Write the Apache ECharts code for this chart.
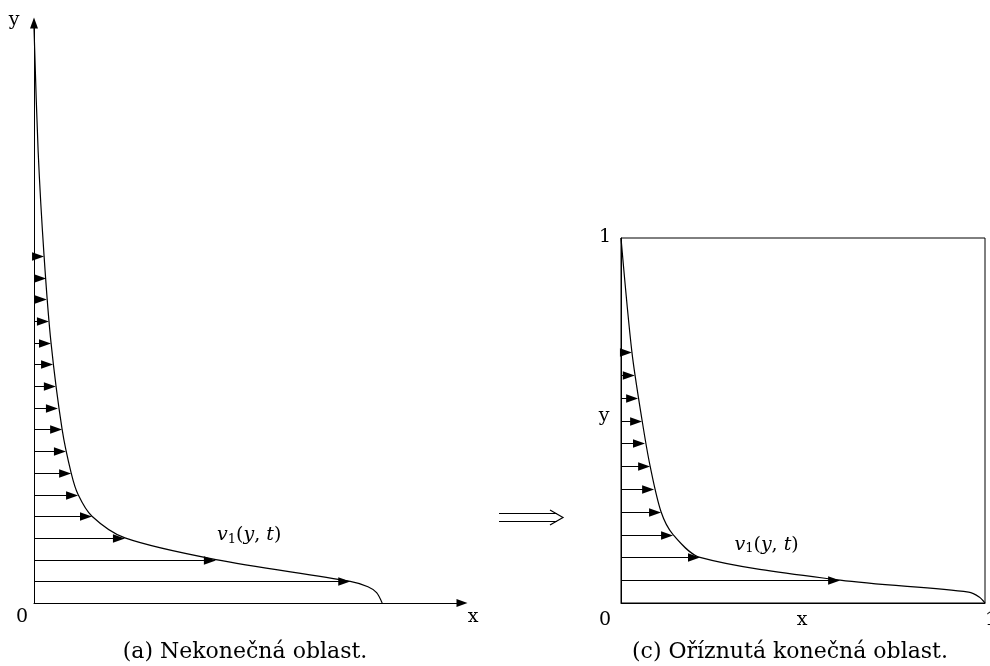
<!DOCTYPE html>
<html>
<head>
<meta charset="utf-8">
<title>Nekonečná a oříznutá oblast</title>
<script src="https://cdn.jsdelivr.net/npm/echarts@6/dist/echarts.min.js"></script>
<style>
  html, body { margin: 0; padding: 0; background: #fff; }
  #chart { width: 990px; height: 666px; }
</style>
</head>
<body>
<div id="chart"></div>
<script>
// (a) infinite domain - velocity arrows (tip x) at heights y
var leftArrowY = [1, 0.9375, 0.875, 0.8125, 0.75, 0.6875, 0.625, 0.5625, 0.5, 0.4375, 0.375, 0.3125, 0.25, 0.1875, 0.125, 0.0625];
var leftArrowX = [0.029, 0.035, 0.037, 0.043, 0.049, 0.055, 0.063, 0.069, 0.081, 0.092, 0.107, 0.127, 0.167, 0.262, 0.524, 0.911];
// profile v1(y,t) in (a)
var leftCurveX = [0, 0.012, 0.029, 0.049, 0.081, 0.107, 0.127, 0.167, 0.262, 0.524, 0.911, 0.962, 0.987, 1.003];
var leftCurveY = [1.657, 1.3, 1, 0.75, 0.5, 0.375, 0.3125, 0.25, 0.1875, 0.125, 0.0625, 0.047, 0.03, 0];

// (c) truncated finite domain
var rightArrowY = [0.6875, 0.625, 0.5625, 0.5, 0.4375, 0.375, 0.3125, 0.25, 0.1875, 0.125, 0.0625];
var rightArrowX = [0.030, 0.038, 0.047, 0.058, 0.066, 0.080, 0.091, 0.110, 0.143, 0.217, 0.602];
var rightCurveX = [0, 0.030, 0.058, 0.080, 0.110, 0.143, 0.217, 0.602, 0.955, 0.985, 1];
var rightCurveY = [1, 0.6875, 0.5, 0.375, 0.25, 0.1875, 0.125, 0.0625, 0.03, 0.016, 0];

function zip(xs, ys) {
  var out = [];
  for (var i = 0; i < xs.length; i++) out.push([xs[i], ys[i]]);
  return out;
}

var serif = '"DejaVu Serif", "Liberation Serif", serif';

// horizontal arrow from the y axis to the profile
function renderArrow(params, api) {
  var x = api.value(0), y = api.value(1);
  var p0 = api.coord([0, y]);
  var p1 = api.coord([x, y]);
  var yy = Math.round(p1[1]) + 0.5;
  var L = 12, W = 4.3;
  return {
    type: 'group',
    children: [
      { type: 'line', shape: { x1: p0[0], y1: yy, x2: p1[0] - L + 1, y2: yy },
        style: { stroke: '#000', lineWidth: 1 } },
      { type: 'polygon', shape: { points: [[p1[0], yy], [p1[0] - L, yy - W], [p1[0] - L, yy + W]] },
        style: { fill: '#000' } }
    ]
  };
}

var v1Rich = {
  i: { fontFamily: serif, fontStyle: 'italic', fontSize: 19, color: '#000' },
  s: { fontFamily: serif, fontSize: 13, color: '#000', padding: [9, 0, 0, 0] },
  n: { fontFamily: serif, fontSize: 19, color: '#000' }
};
var v1Text = '{i|v}{s|1}{n|(}{i|y}{n|, }{i|t}{n|)}';

function label(x, y, text, size, align) {
  return {
    type: 'text', x: x, y: y,
    style: { text: text, fontFamily: serif, fontSize: size || 19, fill: '#000',
             textAlign: align || 'center', textVerticalAlign: 'middle' }
  };
}

var myChart = echarts.init(document.getElementById('chart'), null, { renderer: 'canvas' });

var axisOff = { axisTick: { show: false }, axisLabel: { show: false }, splitLine: { show: false } };

var option = {
  backgroundColor: '#fff',
  animation: false,
  grid: [
    { left: 34, top: 23, width: 428, height: 580, show: false },
    { left: 621, top: 238, width: 364, height: 365, show: true, borderColor: '#000', borderWidth: 1 }
  ],
  xAxis: [
    Object.assign({ gridIndex: 0, type: 'value', min: 0, max: 1.233,
      axisLine: { show: true, onZero: false, symbol: ['none', 'triangle'], symbolSize: [8, 11],
                  lineStyle: { color: '#000', width: 1 } } }, axisOff),
    Object.assign({ gridIndex: 1, type: 'value', min: 0, max: 1,
      axisLine: { show: true, onZero: false, lineStyle: { color: '#000', width: 1 } } }, axisOff)
  ],
  yAxis: [
    Object.assign({ gridIndex: 0, type: 'value', min: 0, max: 1.671,
      axisLine: { show: true, onZero: false, symbol: ['none', 'triangle'], symbolSize: [8, 11],
                  lineStyle: { color: '#000', width: 1 } } }, axisOff),
    Object.assign({ gridIndex: 1, type: 'value', min: 0, max: 1,
      axisLine: { show: true, onZero: false, lineStyle: { color: '#000', width: 1 } } }, axisOff)
  ],
  series: [
    {
      type: 'line', xAxisIndex: 0, yAxisIndex: 0,
      data: zip(leftCurveX, leftCurveY),
      smooth: 0.3, showSymbol: false, silent: true,
      lineStyle: { color: '#000', width: 1.2 },
      markPoint: {
        symbol: 'rect', symbolSize: 1, itemStyle: { color: 'transparent' },
        label: { show: true, formatter: v1Text, rich: v1Rich, position: 'inside' },
        data: [{ coord: [0.62, 0.196] }]
      }
    },
    {
      type: 'custom', xAxisIndex: 0, yAxisIndex: 0,
      data: zip(leftArrowX, leftArrowY),
      renderItem: renderArrow, silent: true
    },
    {
      type: 'line', xAxisIndex: 1, yAxisIndex: 1,
      data: zip(rightCurveX, rightCurveY),
      smooth: 0.3, showSymbol: false, silent: true,
      lineStyle: { color: '#000', width: 1.2 },
      markPoint: {
        symbol: 'rect', symbolSize: 1, itemStyle: { color: 'transparent' },
        label: { show: true, formatter: v1Text, rich: v1Rich, position: 'inside' },
        data: [{ coord: [0.4, 0.16] }]
      }
    },
    {
      type: 'custom', xAxisIndex: 1, yAxisIndex: 1,
      data: zip(rightArrowX, rightArrowY),
      renderItem: renderArrow, silent: true
    }
  ],
  graphic: [
    label(14, 20, 'y'),
    label(473, 617, 'x'),
    label(22, 617, '0'),
    label(605, 237, '1'),
    label(604, 416, 'y'),
    label(605, 620, '0'),
    label(802, 620, 'x'),
    label(985, 620, '1', 19, 'left'),
    label(245, 652, '(a) Nekonečná oblast.', 22),
    label(790, 652, '(c) Oříznutá konečná oblast.', 22),
    // implication arrow between the panels
    { type: 'polyline', shape: { points: [[499, 513.5], [557, 513.5]] }, style: { stroke: '#000', lineWidth: 1.2, fill: null } },
    { type: 'polyline', shape: { points: [[499, 521.5], [557, 521.5]] }, style: { stroke: '#000', lineWidth: 1.2, fill: null } },
    { type: 'polyline', shape: { points: [[550, 510], [563, 517.5], [550, 525]] }, style: { stroke: '#000', lineWidth: 1.2, fill: null } }
  ]
};

myChart.setOption(option);
window.addEventListener('resize', function () { myChart.resize(); });
</script>
</body>
</html>
